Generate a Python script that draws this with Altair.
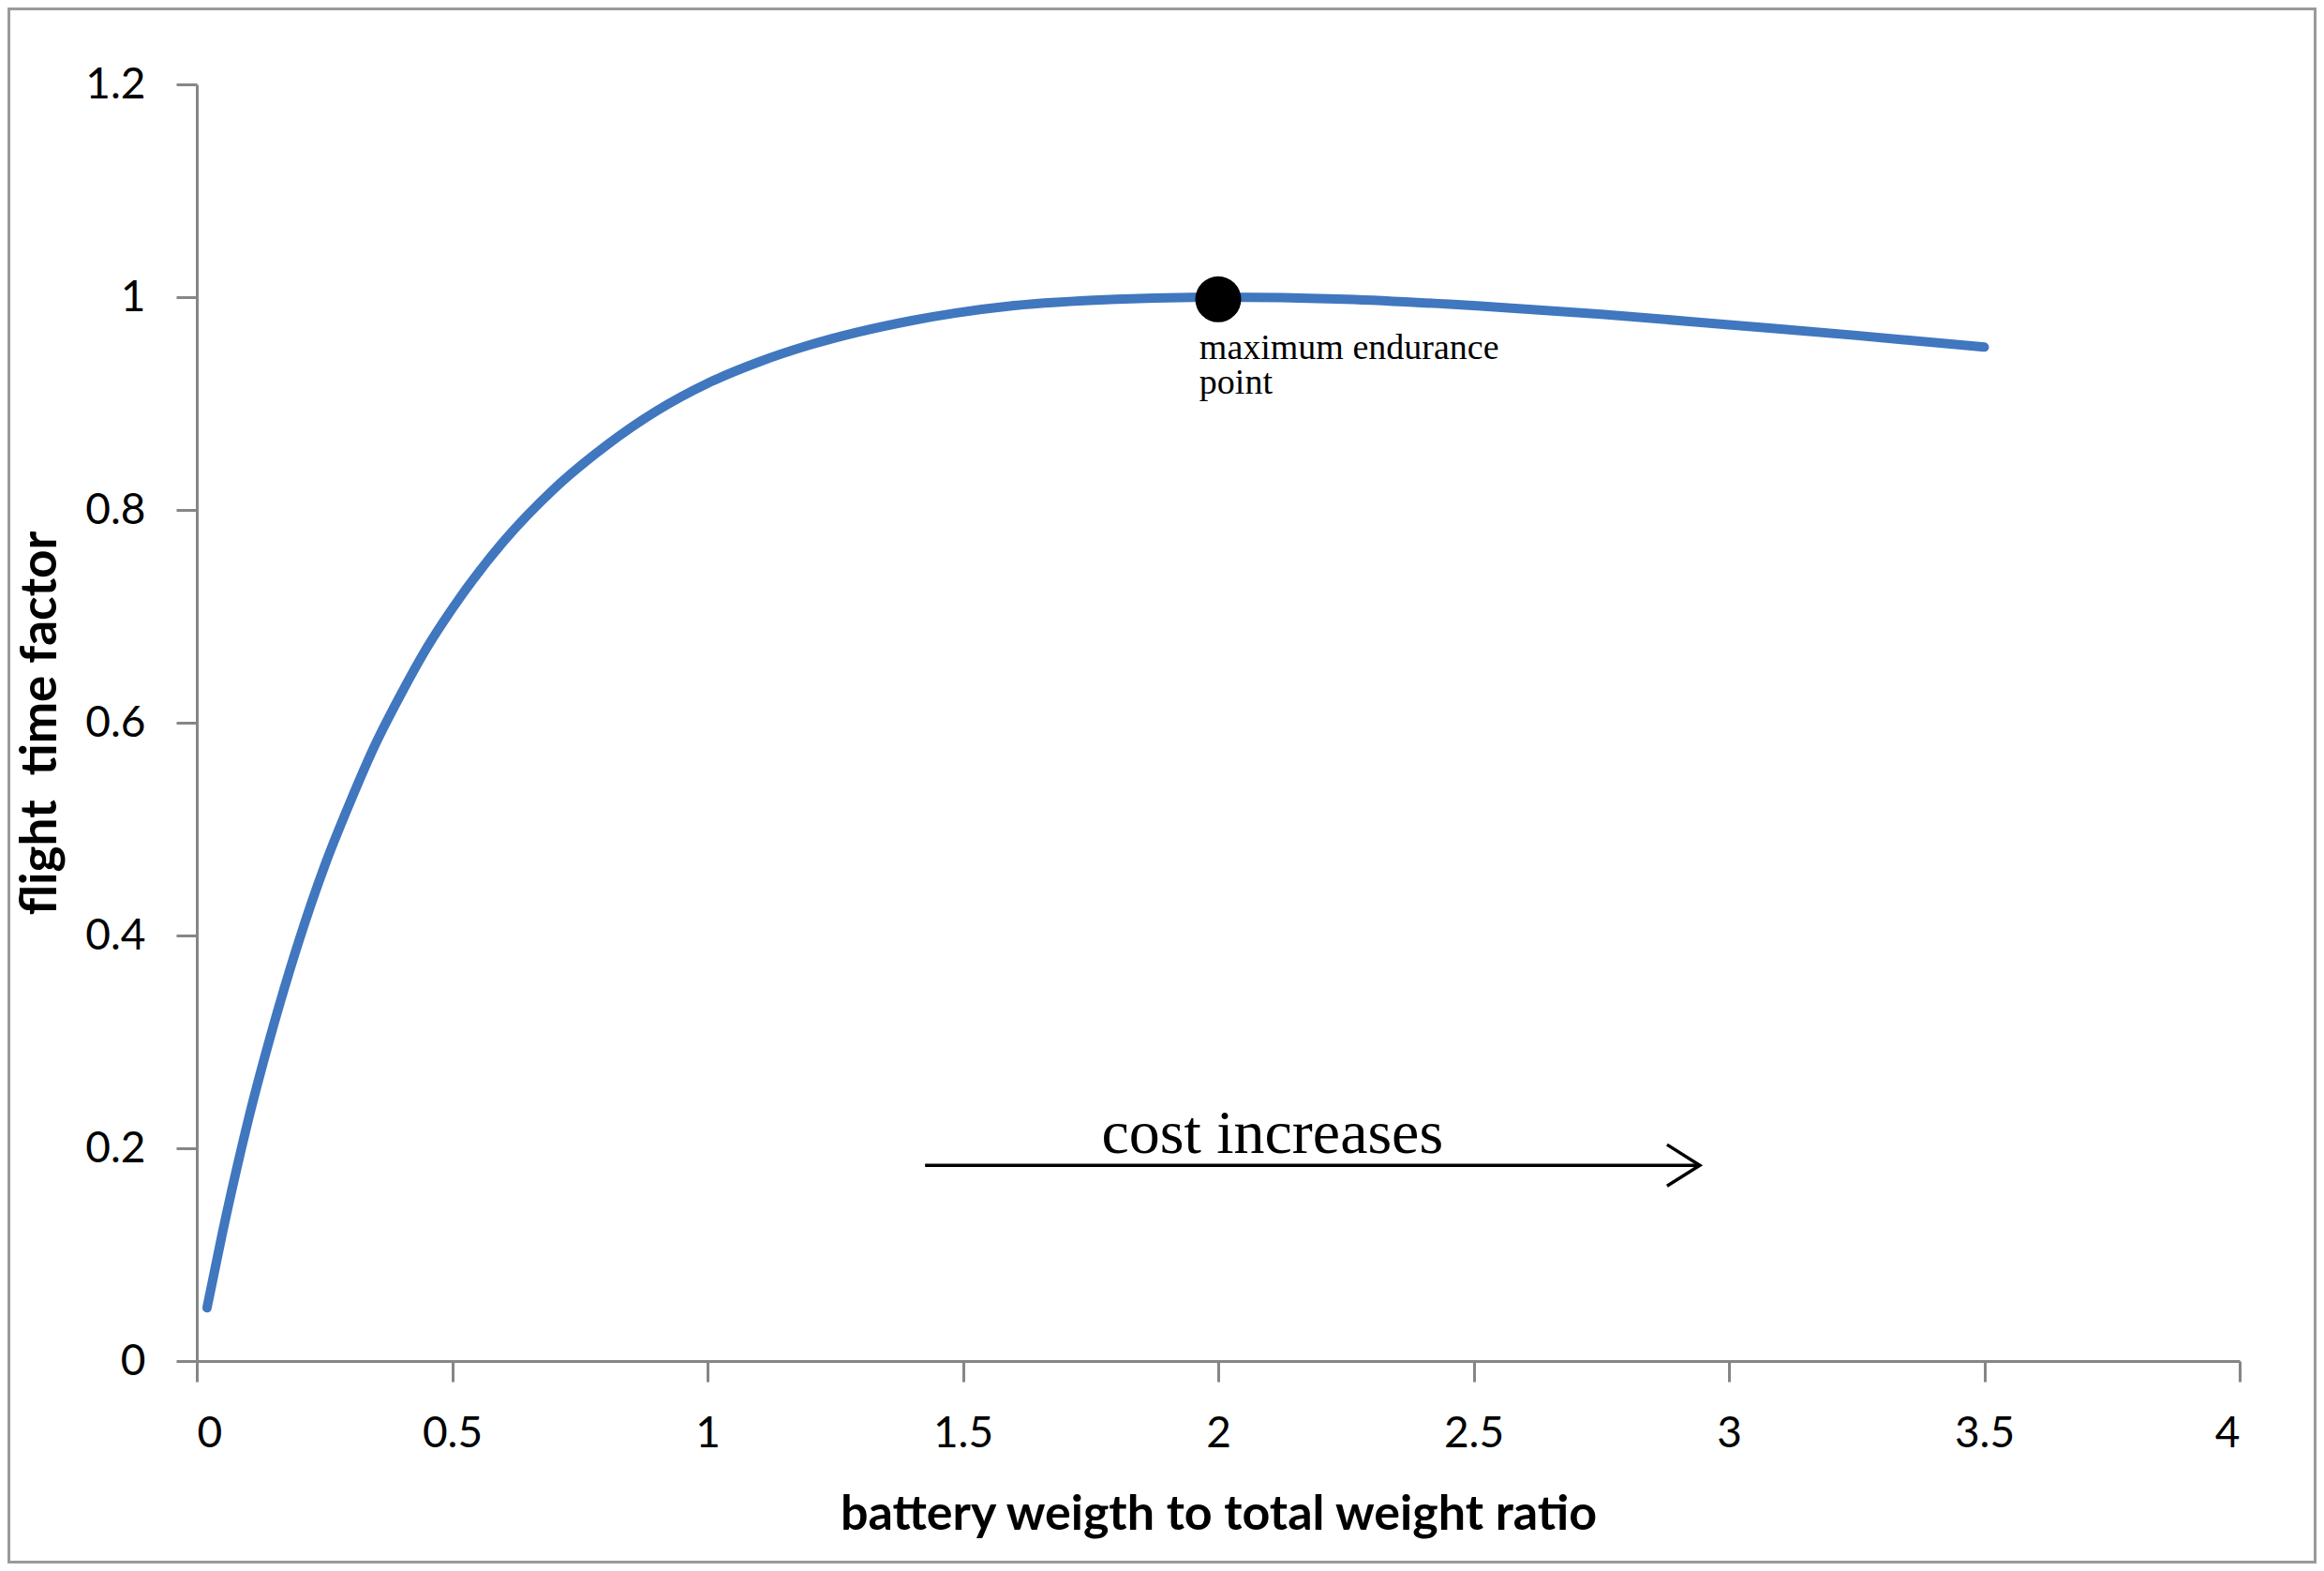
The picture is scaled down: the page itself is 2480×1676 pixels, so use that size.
import altair as alt
import pandas as pd

# ---- data ----
ratio = [0.02, 0.05, 0.1, 0.15, 0.2, 0.25, 0.3, 0.35, 0.4, 0.45, 0.5, 0.6, 0.7,
         0.8, 0.9, 1.0, 1.1, 1.2, 1.4, 1.6, 1.8, 2.0, 2.25, 2.5, 2.75, 3.0, 3.25, 3.5]
flight_factor = [0.05, 0.12, 0.225, 0.315, 0.395, 0.465, 0.525, 0.58, 0.627, 0.67,
                 0.707, 0.77, 0.82, 0.86, 0.893, 0.919, 0.939, 0.955, 0.978, 0.992,
                 0.998, 1.0, 0.998, 0.992, 0.984, 0.974, 0.964, 0.953]

max_x = [2.0]
max_y = [0.998]
max_label = ["maximum endurance", "point"]
max_label_x = [1.963, 1.963]
max_label_y = [0.942, 0.909]

cost_label = ["cost increases"]
cost_label_x = [2.106]
cost_label_y = [0.196]

arrow_x_start = [1.426]
arrow_x_end = [2.943]
arrow_y = [0.184]

x_ticks = [0, 0.5, 1, 1.5, 2, 2.5, 3, 3.5, 4]
y_ticks = [0, 0.2, 0.4, 0.6, 0.8, 1.0, 1.2]

W, H = 2180, 1362
PL, PT, PR, PB = 202, 82, 82, 216

curve = pd.DataFrame({"ratio": ratio, "factor": flight_factor})
maxpt = pd.DataFrame({"x": max_x, "y": max_y})
maxlbl = pd.DataFrame({"x": max_label_x, "y": max_label_y, "t": max_label})
costlbl = pd.DataFrame({"x": cost_label_x, "y": cost_label_y, "t": cost_label})
arrow = pd.DataFrame({"x": arrow_x_start, "x2": arrow_x_end, "y": arrow_y})

axis_common = dict(
    grid=False,
    domainColor="#868686", domainWidth=3,
    tickColor="#868686", tickWidth=3, tickSize=22,
    labelFont="Lato", labelFontSize=46, labelColor="#000000", labelPadding=33,
    titleFont="Lato", titleFontWeight="bold", titleColor="#000000",
    format=".1~f",
)

xs = alt.Scale(domain=[0, 4], nice=False, zero=False)
ys = alt.Scale(domain=[0, 1.2], nice=False, zero=False)

line = alt.Chart(curve).mark_line(
    color="#4077BE", strokeWidth=10, interpolate="monotone", strokeCap="round"
).encode(
    x=alt.X("ratio:Q", scale=xs,
            axis=alt.Axis(values=x_ticks, title="battery weigth to total weight ratio",
                          titlePadding=38, titleFontSize=52, **axis_common)),
    y=alt.Y("factor:Q", scale=ys,
            axis=alt.Axis(values=y_ticks, title="flight\u00a0 time factor",
                          titlePadding=20, titleFontSize=53, **axis_common)),
)

dot = alt.Chart(maxpt).mark_circle(color="#000000", size=2400, opacity=1).encode(
    x=alt.X("x:Q", scale=xs), y=alt.Y("y:Q", scale=ys)
)

mlabel = alt.Chart(maxlbl).mark_text(
    font="Liberation Serif", fontSize=38, align="left", baseline="alphabetic",
    color="#000000"
).encode(x=alt.X("x:Q", scale=xs), y=alt.Y("y:Q", scale=ys), text="t:N")

clabel = alt.Chart(costlbl).mark_text(
    font="Liberation Serif", fontSize=66, align="center", baseline="alphabetic",
    color="#000000"
).encode(x=alt.X("x:Q", scale=xs), y=alt.Y("y:Q", scale=ys), text="t:N")

arrow_line = alt.Chart(arrow).mark_rule(color="#000000", strokeWidth=3.5).encode(
    x=alt.X("x:Q", scale=xs), x2="x2:Q", y=alt.Y("y:Q", scale=ys)
)

arrow_head = alt.Chart(arrow).mark_point(
    shape="M-1,-0.63L0,0L-1,0.63", size=4900, filled=False,
    stroke="#000000", strokeWidth=3.5, opacity=1, strokeJoin="miter"
).encode(x=alt.X("x2:Q", scale=xs), y=alt.Y("y:Q", scale=ys))

frame = alt.Chart(pd.DataFrame({"k": [0]})).mark_rect(
    filled=False, stroke="#9A9A9A", strokeWidth=3, clip=False
).encode(
    x=alt.value(-PL + 1.5), x2=alt.value(W + PR - 1.5),
    y=alt.value(-PT + 1.5), y2=alt.value(H + PB - 1.5),
)

chart = alt.layer(frame, line, arrow_line, arrow_head, dot, mlabel, clabel).properties(
    width=W, height=H,
    autosize=alt.AutoSizeParams(type="none"),
    padding={"left": PL, "top": PT, "right": PR, "bottom": PB},
    background="#ffffff",
).configure_view(stroke=None)

chart.save("out.html", embed_options={"renderer": "svg", "actions": False})
